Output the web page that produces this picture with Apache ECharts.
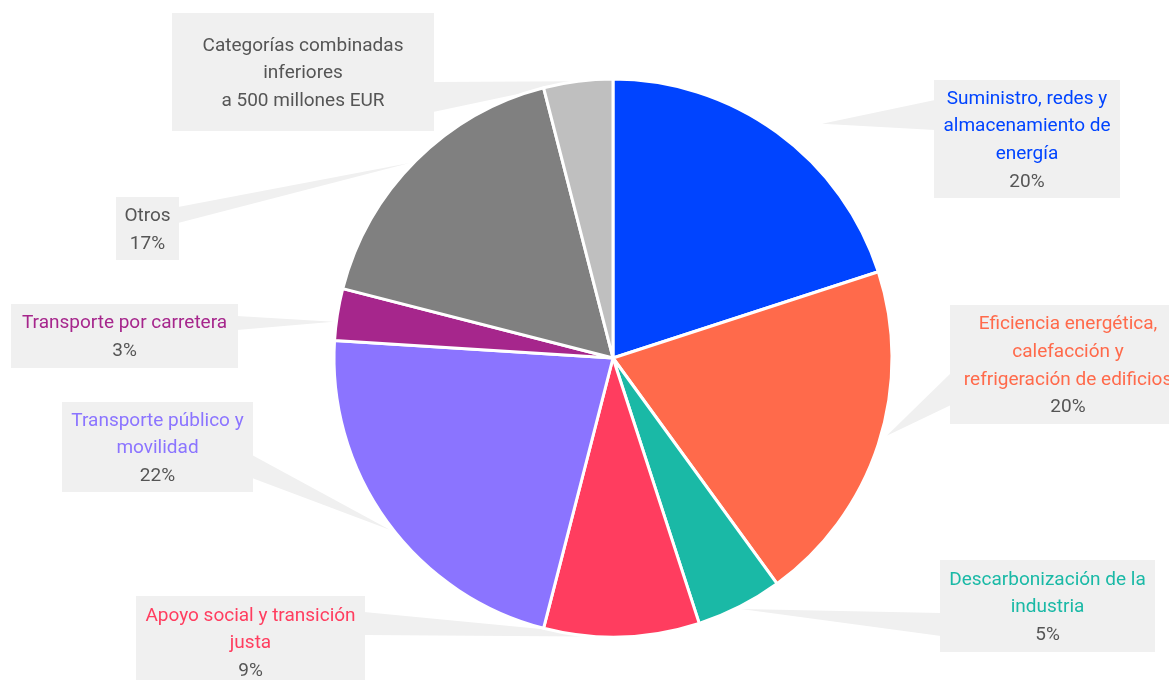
<!DOCTYPE html>
<html>
<head>
<meta charset="utf-8">
<title>Distribución por categoría</title>
<script src="https://cdn.jsdelivr.net/npm/echarts@6/dist/echarts.min.js"></script>
<style>
  html, body { margin: 0; padding: 0; background: #ffffff; }
  #chart { width: 1169px; height: 680px; }
</style>
</head>
<body>
<div id="chart"></div>
<script>
// Categories, clockwise from the top
const categories = [
  'Suministro, redes y almacenamiento de energía',
  'Eficiencia energética, calefacción y refrigeración de edificios',
  'Descarbonización de la industria',
  'Apoyo social y transición justa',
  'Transporte público y movilidad',
  'Transporte por carretera',
  'Otros',
  'Categorías combinadas inferiores a 500 millones EUR'
];

// Wrapped label lines for each category
const labelLines = [
  ['Suministro, redes y', 'almacenamiento de', 'energía'],
  ['Eficiencia energética,', 'calefacción y', 'refrigeración de edificios'],
  ['Descarbonización de la', 'industria'],
  ['Apoyo social y transición', 'justa'],
  ['Transporte público y', 'movilidad'],
  ['Transporte por carretera'],
  ['Otros'],
  ['Categorías combinadas', 'inferiores', 'a 500 millones EUR']
];

// Share of the total (%)
const shares = [20, 20, 5, 9, 22, 3, 17, 4];

// Whether the share is printed under the name
const showShare = [true, true, true, true, true, true, true, false];

const sliceColors = ['#0044ff', '#ff6a4b', '#1ab9a6', '#ff3d5f', '#8b74ff', '#a6268c', '#808080', '#bfbfbf'];
const nameColors  = ['#0044ff', '#ff6a4b', '#1ab9a6', '#ff3d5f', '#8b74ff', '#a6268c', '#555555', '#555555'];

// Callout boxes (left, top, width, height), the side facing the pie,
// where the pointer leaves the box (offsets from its top) and where it points
// (fraction along the slice, radius factor)
const callouts = [
  { x: 934, y: 80,  w: 186, h: 118, side: 'left',  base: [20, 50], at: [0.58, 1.125] },
  { x: 950, y: 305, w: 236, h: 119, side: 'left',  base: [68, 100], at: [0.47, 1.02] },
  { x: 940, y: 560, w: 215, h: 92,  side: 'left',  base: [53, 76], at: [0.5, 1.01] },
  { x: 136, y: 596, w: 229, h: 92,  side: 'right', base: [16, 39], at: [0.5, 1.0] },
  { x: 62,  y: 402, w: 191, h: 90,  side: 'right', base: [53, 76], at: [0.48, 1.01] },
  { x: 11,  y: 304, w: 227, h: 64,  side: 'right', base: [12, 26], at: [0.35, 1.01] },
  { x: 116, y: 197, w: 63,  h: 63,  side: 'right', base: [10, 26], at: [0.48, 1.01] },
  { x: 172, y: 13,  w: 262, h: 118, side: 'right', base: [69, 99], at: [0.5, 1.0] }
];

const FONT = 'Roboto, "Noto Sans", sans-serif';
const FONT_SIZE = 19;
const LINE_H = 27.6;
const PIE_CENTER = [613, 358];
const PIE_RADIUS = 279;

const chart = echarts.init(document.getElementById('chart'), null, { renderer: 'canvas' });

const seriesData = categories.map((name, i) => {
  const lineCount = labelLines[i].length + (showShare[i] ? 1 : 0);
  const padV = Math.max(0, (callouts[i].h - lineCount * LINE_H) / 2);
  return {
    name: name,
    value: shares[i],
    itemStyle: { color: sliceColors[i] },
    label: {
      width: callouts[i].w,
      padding: [padV + 1.5, 0, padV - 1.5, 0],
      rich: {
        n: { color: nameColors[i], fontSize: FONT_SIZE, fontFamily: FONT, lineHeight: LINE_H, align: 'center' },
        p: { color: '#555555', fontSize: FONT_SIZE, fontFamily: FONT, lineHeight: LINE_H, align: 'center' }
      }
    }
  };
});

chart.setOption({
  animation: false,
  backgroundColor: '#ffffff',
  series: [{
    type: 'pie',
    center: PIE_CENTER,
    radius: PIE_RADIUS,
    startAngle: 90,
    clockwise: true,
    avoidLabelOverlap: false,
    z: 2,
    itemStyle: { borderColor: '#ffffff', borderWidth: 3 },
    emphasis: { disabled: true },
    label: {
      show: true,
      position: 'outside',
      backgroundColor: '#f0f0f0',
      fontFamily: FONT,
      fontSize: FONT_SIZE,
      lineHeight: LINE_H,
      align: 'center',
      formatter: (p) => {
        const i = p.dataIndex;
        let s = labelLines[i].map(t => '{n|' + t + '}').join('\n');
        if (showShare[i]) s += '\n{p|' + p.value + '%}';
        return s;
      }
    },
    labelLine: { show: false },
    labelLayout: (params) => {
      const c = callouts[params.dataIndex];
      return {
        x: c.x + c.w / 2,
        y: c.y + c.h / 2,
        align: 'center',
        verticalAlign: 'middle',
        hideOverlap: false,
        moveOverlap: false
      };
    },
    data: seriesData
  }]
});

// Slice geometry as laid out by the pie series
function sliceLayout(i) {
  try {
    const lay = chart.getModel().getSeriesByIndex(0).getData().getItemLayout(i);
    if (lay && lay.r) return lay;
  } catch (e) { /* fall through */ }
  const total = shares.reduce((a, b) => a + b, 0);
  let cum = 0;
  for (let k = 0; k < i; k++) cum += shares[k];
  const a0 = -Math.PI / 2 + cum / total * Math.PI * 2;
  return { cx: PIE_CENTER[0], cy: PIE_CENTER[1], r: PIE_RADIUS,
           startAngle: a0, endAngle: a0 + shares[i] / total * Math.PI * 2 };
}

// Pointers from each callout box to its slice
const pointers = callouts.map((c, i) => {
  const lay = sliceLayout(i);
  const ang = lay.startAngle + c.at[0] * (lay.endAngle - lay.startAngle);
  const r = lay.r * c.at[1];
  const tip = [lay.cx + r * Math.cos(ang), lay.cy + r * Math.sin(ang)];
  const ex = c.side === 'left' ? c.x + 1 : c.x + c.w - 1;
  return {
    type: 'polygon',
    z: 0,
    silent: true,
    shape: { points: [[ex, c.y + c.base[0]], [ex, c.y + c.base[1]], tip] },
    style: { fill: '#f0f0f0' }
  };
});

chart.setOption({ graphic: { elements: pointers } });
</script>
</body>
</html>
